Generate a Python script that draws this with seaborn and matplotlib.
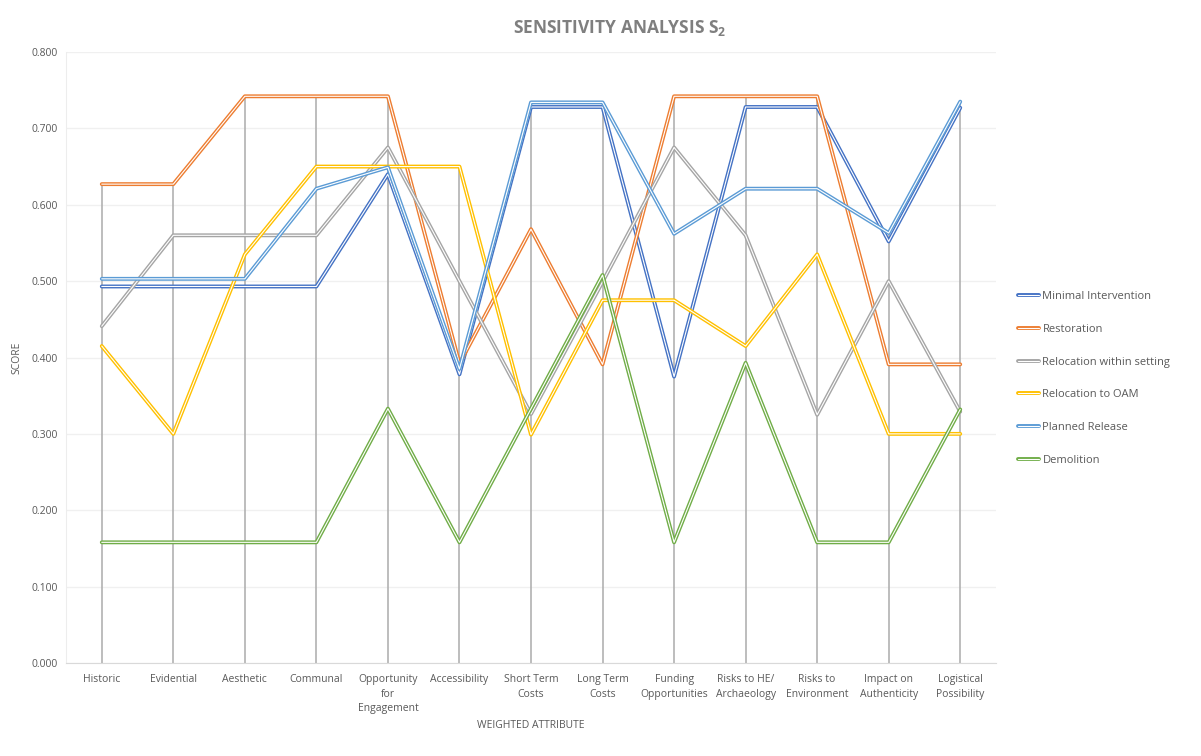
import matplotlib
matplotlib.use('Agg')
from matplotlib import pyplot as plt
from matplotlib.lines import Line2D
import matplotlib.patheffects as pe
import numpy as np
import pandas as pd
import seaborn as sns

attributes = ['Historic', 'Evidential', 'Aesthetic', 'Communal', 'Opportunity\nfor\nEngagement',
              'Accessibility', 'Short Term\nCosts', 'Long Term\nCosts', 'Funding\nOpportunities',
              'Risks to HE/\nArchaeology', 'Risks to\nEnvironment', 'Impact on\nAuthenticity',
              'Logistical\nPossibility']

minimal_intervention = [0.493, 0.493, 0.493, 0.493, 0.640, 0.378, 0.728, 0.728, 0.375, 0.728, 0.728, 0.552, 0.727]
restoration = [0.627, 0.627, 0.742, 0.742, 0.742, 0.392, 0.568, 0.391, 0.742, 0.742, 0.742, 0.391, 0.391]
relocation_setting = [0.441, 0.560, 0.560, 0.560, 0.675, 0.500, 0.326, 0.499, 0.675, 0.560, 0.325, 0.500, 0.329]
relocation_oam = [0.415, 0.300, 0.535, 0.650, 0.650, 0.650, 0.299, 0.475, 0.475, 0.415, 0.535, 0.300, 0.300]
planned_release = [0.503, 0.503, 0.503, 0.621, 0.649, 0.385, 0.734, 0.734, 0.562, 0.621, 0.621, 0.563, 0.735]
demolition = [0.158, 0.158, 0.158, 0.158, 0.333, 0.158, 0.333, 0.508, 0.158, 0.393, 0.158, 0.158, 0.332]

series = {
    'Minimal Intervention': minimal_intervention,
    'Restoration': restoration,
    'Relocation within setting': relocation_setting,
    'Relocation to OAM': relocation_oam,
    'Planned Release': planned_release,
    'Demolition': demolition,
}
colors = ['#4472C4', '#ED7D31', '#A5A5A5', '#FFC000', '#5B9BD5', '#70AD47']

rows = []
for name, vals in series.items():
    for i, v in enumerate(vals):
        rows.append({'idx': i, 'score': v, 'option': name})
df = pd.DataFrame(rows)

sns.set_style('white')
plt.rcParams['font.family'] = ['Open Sans', 'DejaVu Sans']
plt.rcParams['mathtext.fontset'] = 'custom'
plt.rcParams['mathtext.bf'] = 'Open Sans:bold'
plt.rcParams['mathtext.rm'] = 'Open Sans'

txt = '#595959'
f = plt.figure(figsize=(12.01, 7.56), dpi=100)
ax = f.add_axes([66/1201, 93/756, 930/1201, 611/756])

# drop lines from the highest series down to the axis
tops = df.groupby('idx')['score'].max()
ax.vlines(tops.index, 0, tops.values, color='#ABABAB', lw=1.1, zorder=1)

sns.lineplot(data=df, x='idx', y='score', hue='option', palette=colors,
             legend=False, ax=ax, zorder=3)

# Excel style double lines
for line, c in zip(ax.lines, colors):
    line.set_color('white')
    line.set_linewidth(0.8)
    line.set_path_effects([pe.withStroke(linewidth=2.8, foreground=c)])

ax.set_xlim(-0.5, len(attributes) - 0.5)
ax.set_ylim(0, 0.8)
ax.set_yticks(np.arange(0, 0.81, 0.1))
ax.set_yticklabels([f'{v:.3f}' for v in np.arange(0, 0.81, 0.1)], color=txt, fontsize=7.5)
ax.set_xticks(range(len(attributes)))
ax.set_xticklabels(attributes, color=txt, fontsize=7.5, linespacing=1.45)
ax.tick_params(axis='x', length=0, pad=8)
ax.tick_params(axis='y', length=0, pad=6)
ax.set_xticks(np.arange(-0.5, len(attributes)), minor=True)
ax.tick_params(axis='x', which='minor', length=5, color='#D9D9D9', direction='out')
ax.grid(axis='y', color='#F0F0F0', lw=1)
for s in ['top', 'right']:
    ax.spines[s].set_visible(False)
ax.spines['bottom'].set_color('#D9D9D9')
ax.spines['left'].set_color('#EDEDED')

ax.set_xlabel('WEIGHTED ATTRIBUTE', color=txt, fontsize=7.5, labelpad=4)
ax.set_ylabel('SCORE', color=txt, fontsize=7.5, labelpad=6)

f.text(620/1201, 1 - 28/756, 'SENSITIVITY ANALYSIS $\\mathbf{S_2}$', ha='center', va='center',
       fontsize=12.5, fontweight='bold', color='#7F7F7F')

handles = [Line2D([], [], color='white', lw=0.8,
                  path_effects=[pe.withStroke(linewidth=2.8, foreground=c)]) for c in colors]
f.legend(handles, list(series.keys()), loc='center left', bbox_to_anchor=(1018/1201, 1 - 378.5/756),
         frameon=False, fontsize=8, labelcolor=txt, labelspacing=1.95, handlelength=1.9,
         handletextpad=0.3, borderpad=0, borderaxespad=0)

plt.savefig('out.png', dpi=100)
